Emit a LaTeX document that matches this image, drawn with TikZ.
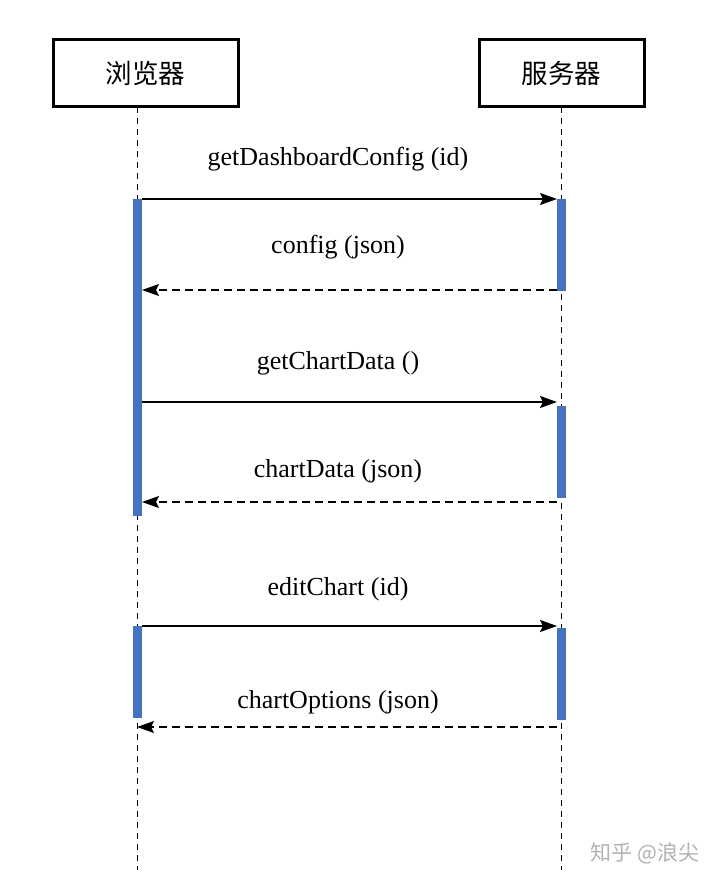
\documentclass[tikz,border=0pt]{standalone}
\usepackage{fontspec}
\setmainfont{Liberation Serif}
\newfontfamily\cjk{Noto Sans CJK SC}
\usetikzlibrary{arrows.meta}
\definecolor{barblue}{HTML}{4472C4}
\tikzset{
  actor/.style={draw=black,line width=3pt,minimum width=185pt,minimum height=67pt,inner sep=0pt,font=\cjk\fontsize{26.5}{30}\selectfont},
  life/.style={dashed,line width=1pt,dash pattern=on 6pt off 5pt},
  actbar/.style={fill=barblue,draw=none,minimum width=9.5pt,inner sep=0pt},
  msg/.style={line width=1.2pt,-{Stealth[length=17pt,width=12pt,inset=3pt]}},
  ret/.style={msg,dash pattern=on 8pt off 5pt},
  lbl/.style={font=\fontsize{26}{30}\selectfont,inner sep=0pt},
}
\begin{document}
\begin{tikzpicture}[x=1pt,y=-1pt]
\useasboundingbox (0,0) rectangle (720,882);
\fill[white] (0,0) rectangle (720,882);
\node[actor] (B) at (145.5,73.5) {浏览器};
\node[actor,minimum width=165pt] (S) at (561.5,73.5) {服务器};
\coordinate (Bend) at (137,870);
\coordinate (Send) at (561,870);
\draw[life] (137,107) -- (Bend);
\draw[life] (561,107) -- (Send);
% activation bars
\node[actbar,minimum height=317pt] (b1) at (137.5,357.5) {};
\node[actbar,minimum height=92pt] (b2) at (137.5,672) {};
\node[actbar,minimum height=92pt] (s1) at (561.5,245) {};
\node[actbar,minimum height=92pt] (s2) at (561.5,452) {};
\node[actbar,minimum height=92pt] (s3) at (561.5,674) {};
% message endpoints
\coordinate (m1a) at (142,199); \coordinate (m1b) at (557,199);
\coordinate (m2a) at (557,290); \coordinate (m2b) at (142,290);
\coordinate (m3a) at (142,402); \coordinate (m3b) at (557,402);
\coordinate (m4a) at (557,502); \coordinate (m4b) at (142,502);
\coordinate (m5a) at (142,626); \coordinate (m5b) at (557,626);
\coordinate (m6a) at (557,727); \coordinate (m6b) at (137,727);
\draw[msg] (m1a) -- (m1b);
\draw[ret] (m2a) -- (m2b);
\draw[msg] (m3a) -- (m3b);
\draw[ret] (m4a) -- (m4b);
\draw[msg] (m5a) -- (m5b);
\draw[ret] (m6a) -- (m6b);
\node[lbl] (t1) at (338,159) {getDashboardConfig (id)};
\node[lbl] (t2) at (338,247) {config (json)};
\node[lbl] (t3) at (338,363) {getChartData ()};
\node[lbl] (t4) at (338,471) {chartData (json)};
\node[lbl] (t5) at (338,589) {editChart (id)};
\node[lbl] (t6) at (338,702) {chartOptions (json)};
\node[font=\cjk\fontsize{21}{24}\selectfont,text=black!30] (wm) at (645,853) {知乎 @浪尖};
\end{tikzpicture}
\end{document}
